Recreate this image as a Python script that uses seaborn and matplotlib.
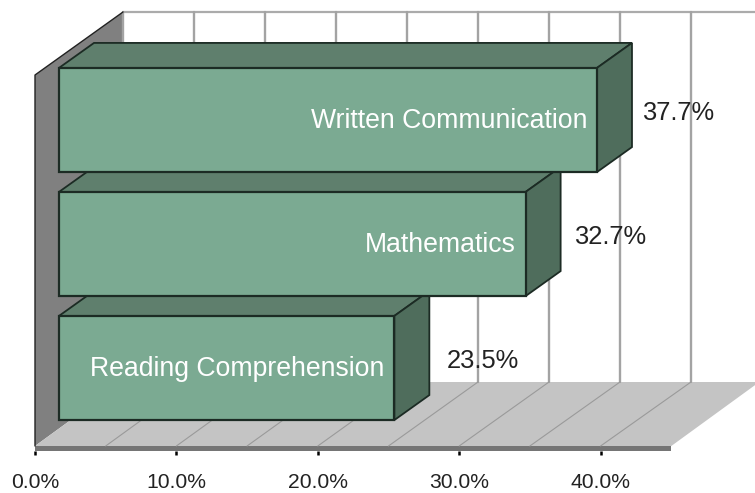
import matplotlib
matplotlib.use("Agg")
import matplotlib.pyplot as plt
import pandas as pd
import seaborn as sns
from matplotlib.patches import Polygon

categories = ["Written Communication", "Mathematics", "Reading Comprehension"]
values = [37.7, 32.7, 23.5]
tick_values = [0, 10, 20, 30, 40]
tick_labels = ["0.0%", "10.0%", "20.0%", "30.0%", "40.0%"]
grid_values = [0, 5, 10, 15, 20, 25, 30, 35, 40]

W, H = 755, 493
PX_PER_PCT = 14.27
FRAME_PX_PER_PCT = 14.14
BACK_SCALE = 14.2 / 14.14
PX_PER_ROW = 124.0

FACE = "#7BAA92"
TOP = "#5F7F6D"
SIDE = "#4F6D5C"
EDGE = "#1C2B24"
WALL = "#808080"
FLOOR = "#C4C4C4"
GRID = "#A3A3A3"
TEXT = "#222222"

sns.set_theme(style="white", rc={"font.family": ["Liberation Sans", "DejaVu Sans"]})
fig = plt.figure(figsize=(W / 100, H / 100), dpi=100, facecolor="white")

# Frame axes: holds the walls, the floor and the percent axis.
axis_px = 451
frame = fig.add_axes([0, 1 - axis_px / H, 1, axis_px / H])
frame.set_xlim(-35 / FRAME_PX_PER_PCT, (W - 35) / FRAME_PX_PER_PCT)
frame.set_ylim(axis_px, 0)
frame.patch.set_alpha(0)
for s in frame.spines.values():
    s.set_visible(False)
frame.set_yticks([])
frame.set_xticks(tick_values, tick_labels, fontsize=15.2, color=TEXT)
frame.tick_params(axis="x", length=3.2, width=1.8, color="black", pad=12.5, bottom=True)

depth_x = 88 / FRAME_PX_PER_PCT
wall_top, wall_bottom = 12, 382
front_top, front_bottom = 75, 446
floor_end = 45

frame.add_patch(Polygon([(0, front_top), (depth_x, wall_top), (depth_x, wall_bottom), (0, front_bottom)],
                        fc=WALL, ec="none", zorder=1))
frame.plot([0, 0, depth_x], [front_bottom, front_top, wall_top], color="#222222", lw=1.0, zorder=2)
frame.add_patch(Polygon([(0, front_bottom), (depth_x, wall_bottom),
                         (floor_end + depth_x, wall_bottom), (floor_end, front_bottom)],
                        fc=FLOOR, ec="none", zorder=1))
frame.add_patch(Polygon([(0, front_bottom), (floor_end, front_bottom), (floor_end, axis_px), (0, axis_px)],
                        fc="#757575", ec="none", zorder=1))
frame.plot([depth_x, W / FRAME_PX_PER_PCT], [wall_top, wall_top], color="#ABABAB", lw=1.6, zorder=1)
for g in grid_values:
    back_x = g * BACK_SCALE + depth_x
    frame.plot([back_x, back_x], [wall_top, wall_bottom], color=GRID, lw=1.7, zorder=1)
    if g > 0:
        frame.plot([g, back_x], [front_bottom, wall_bottom], color="#9A9A9A", lw=0.8, zorder=1.5)

# Bar axes: the series origin sits in front of the wall.
bars = fig.add_axes([0, 0, 1, 1])
bars.patch.set_alpha(0)
table = pd.DataFrame({"category": categories, "value": values})
sns.barplot(data=table, x="value", y="category", order=categories, orient="h",
            color=FACE, saturation=1, width=0.84, edgecolor=EDGE, linewidth=1.6, ax=bars)
bars.set_xlim(-59 / PX_PER_PCT, (W - 59) / PX_PER_PCT)
bars.set_ylim((H - 120) / PX_PER_ROW, -120 / PX_PER_ROW)
bars.set_axis_off()

dx = 35 / PX_PER_PCT
dy = 25 / PX_PER_ROW
half = 0.42
for row, (patch, value) in enumerate(zip(bars.patches, values)):
    z = 10 - row
    patch.set_zorder(z + 0.2)
    top_y, bottom_y = row - half, row + half
    bars.add_patch(Polygon([(0, top_y), (dx, top_y - dy), (value + dx, top_y - dy), (value, top_y)],
                           fc=TOP, ec=EDGE, lw=1.3, zorder=z))
    bars.add_patch(Polygon([(value, top_y), (value + dx, top_y - dy),
                            (value + dx, bottom_y - dy), (value, bottom_y)],
                           fc=SIDE, ec=EDGE, lw=1.3, zorder=z))

label_shift = [5.7, 5.9, 6.2]
for row, (name, value, shift) in enumerate(zip(categories, values, label_shift)):
    bars.text(value - 0.68, row + 0.005, name, ha="right", va="center", color="white", fontsize=19.2, zorder=20)
    bars.text(value + shift, row - 0.06, f"{value:.1f}%", ha="center", va="center",
              color=TEXT, fontsize=18.4, zorder=20)

fig.savefig("out.png", dpi=100)
